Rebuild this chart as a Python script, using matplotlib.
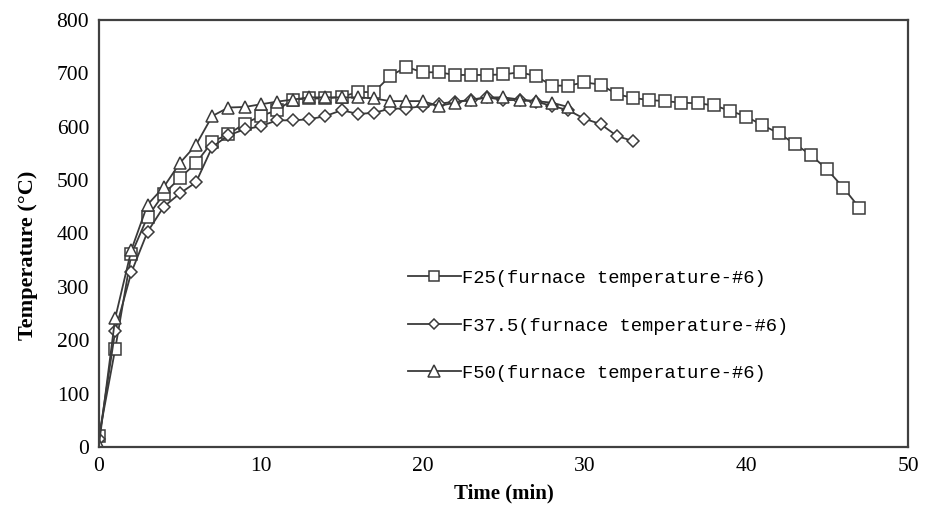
import numpy as np
import matplotlib.pyplot as plt

# furnace temperature readings, one per minute
t25 = np.arange(0, 48)
T25 = [20, 183, 361, 431, 474, 504, 532, 572, 586, 606,
       620, 631, 651, 653, 653, 656, 665, 665, 695, 712,
       702, 702, 697, 697, 697, 698, 702, 695, 677, 677,
       683, 679, 661, 654, 650, 648, 645, 644, 640, 630,
       619, 603, 588, 568, 547, 520, 486, 448]

t375 = np.arange(0, 34)
T375 = [15, 217, 327, 403, 450, 475, 496, 562, 584, 595,
        601, 612, 612, 614, 620, 631, 624, 626, 634, 634,
        639, 643, 647, 650, 655, 650, 650, 647, 639, 631,
        615, 605, 583, 573]

t50 = np.arange(0, 30)
T50 = [4, 241, 369, 454, 487, 532, 566, 620, 636, 637,
       642, 647, 651, 655, 655, 655, 655, 653, 648, 648,
       648, 639, 645, 651, 655, 655, 651, 648, 645, 637]

labels = ["F25(furnace temperature-#6)",
          "F37.5(furnace temperature-#6)",
          "F50(furnace temperature-#6)"]

fig = plt.figure(figsize=(9.31, 5.07), dpi=100)
ax = fig.add_axes([0.1063, 0.1183, 0.869, 0.8423])

lc = '#3a3a3a'
common = dict(color=lc, lw=1.3, markerfacecolor='white', markeredgecolor=lc,
              markeredgewidth=1.1)
ax.plot(t25, T25, marker='s', ms=8.5, label=labels[0], **common)
ax.plot(t375, T375, marker='D', ms=6.0, label=labels[1], **common)
ax.plot(t50, T50, marker='^', ms=9.0, label=labels[2], **common)

ax.set_xlim(0, 50)
ax.set_ylim(0, 800)
ax.set_xticks(range(0, 51, 10))
ax.set_yticks(range(0, 801, 100))

serif = 'Liberation Serif'
ax.tick_params(length=0, pad=7, labelsize=15.5)
for lab in ax.get_xticklabels() + ax.get_yticklabels():
    lab.set_fontfamily(serif)
ax.set_xlabel('Time (min)', fontfamily=serif, fontweight='bold', fontsize=15)
ax.xaxis.set_label_coords(0.5, -0.085)
ax.set_ylabel('Temperature (°C)', fontfamily=serif, fontweight='bold', fontsize=16)
ax.yaxis.set_label_coords(-0.075, 0.45)

for s in ax.spines.values():
    s.set_color('#404040')
    s.set_linewidth(1.6)

leg = ax.legend(loc='center left', bbox_to_anchor=(0.382, 0.2834), frameon=False,
                prop={'family': 'Liberation Mono', 'size': 13.5},
                handlelength=2.8, handletextpad=0.1, labelspacing=1.62,
                borderpad=0, borderaxespad=0, markerscale=0.9)

fig.savefig('out.png', dpi=100)
